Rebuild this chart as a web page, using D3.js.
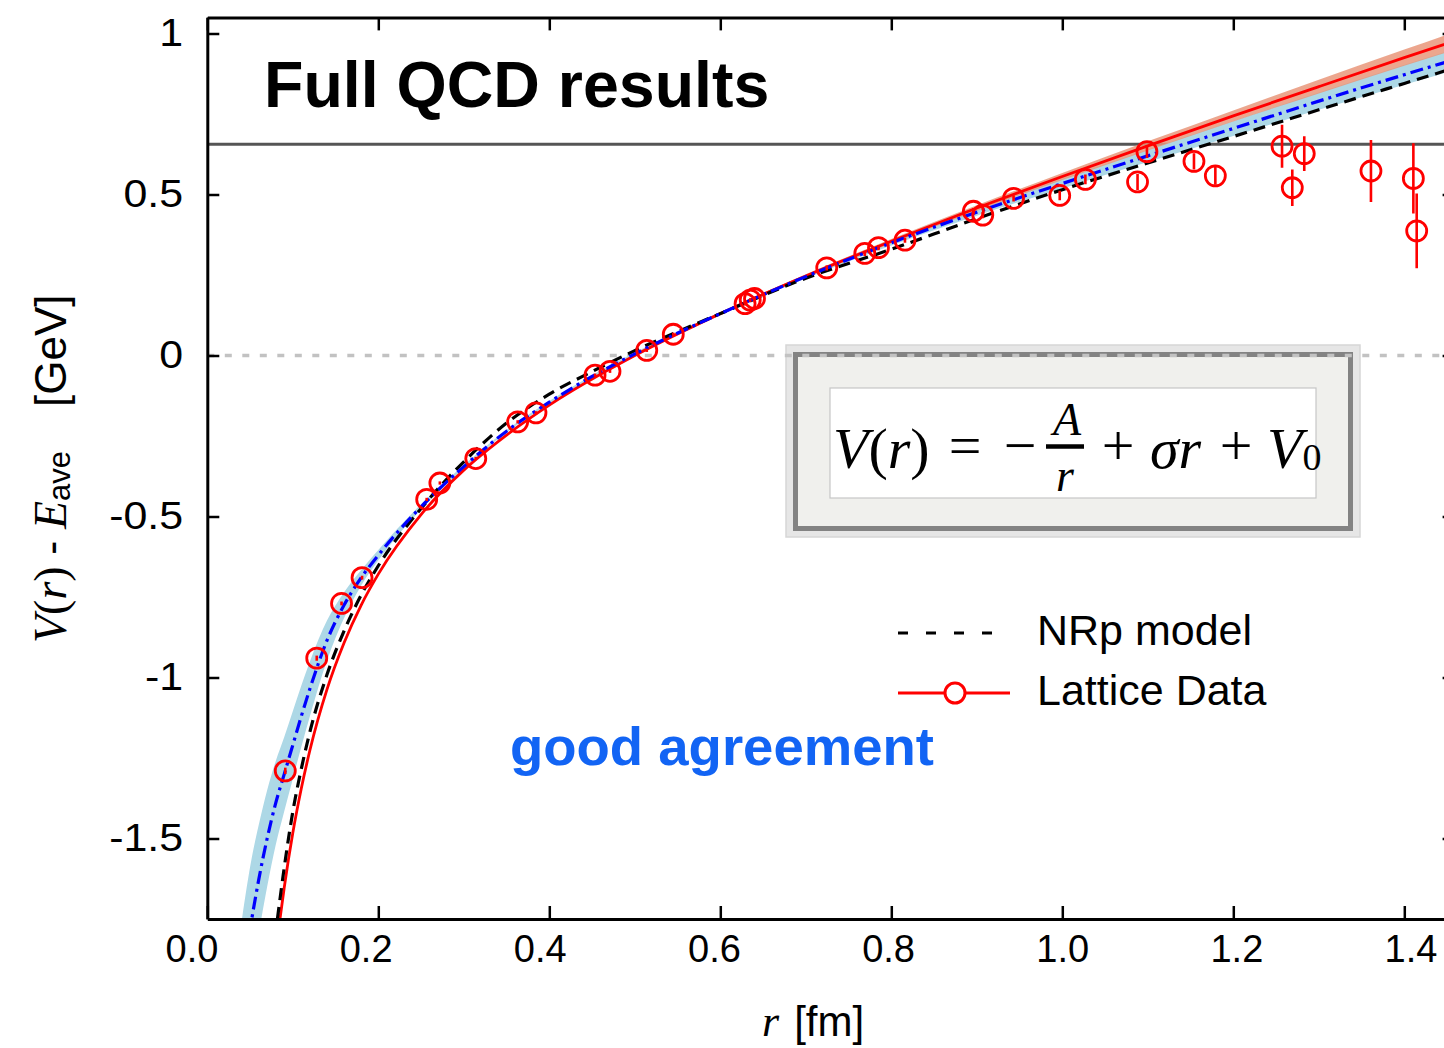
<!DOCTYPE html>
<html>
<head>
<meta charset="utf-8">
<script src="https://cdn.jsdelivr.net/npm/d3@7"></script>
<style>
  body { margin: 0; background: #fff; }
  svg { display: block; }
</style>
</head>
<body>
<script>
// lattice data: r [fm], V(r) - E_ave [GeV], error
const latR   = [0.0912, 0.128, 0.157, 0.181, 0.2566, 0.272, 0.314, 0.363, 0.3844, 0.4535, 0.471, 0.514, 0.545,
                0.629, 0.635, 0.640, 0.7245, 0.769, 0.785, 0.816, 0.896, 0.907, 0.943, 0.997, 1.027, 1.088,
                1.099, 1.154, 1.179, 1.257, 1.269, 1.283, 1.361, 1.4106, 1.4145];
const latV   = [-1.29, -0.94, -0.77, -0.69, -0.447, -0.396, -0.320, -0.206, -0.178, -0.061, -0.049, 0.016, 0.066,
                0.161, 0.172, 0.177, 0.272, 0.317, 0.335, 0.358, 0.448, 0.436, 0.488, 0.497, 0.547, 0.539,
                0.633, 0.603, 0.558, 0.650, 0.521, 0.627, 0.573, 0.550, 0.387];
const latErr = [0.01, 0.008, 0.006, 0.006, 0.005, 0.005, 0.005, 0.005, 0.005, 0.005, 0.005, 0.005, 0.005,
                0.006, 0.006, 0.006, 0.008, 0.008, 0.008, 0.008, 0.01, 0.01, 0.01, 0.015, 0.015, 0.025,
                0.02, 0.025, 0.028, 0.067, 0.057, 0.054, 0.096, 0.109, 0.116];

// Cornell fit to the lattice data (red) with its error band
const fitR   = [0.085, 0.09, 0.10, 0.11, 0.12, 0.14, 0.16, 0.18, 0.20, 0.25, 0.30, 0.35, 0.40, 0.50, 0.60, 0.70,
                0.80, 0.90, 1.00, 1.10, 1.20, 1.30, 1.40, 1.46];
const fitV   = [-1.75, -1.652, -1.483, -1.344, -1.226, -1.037, -0.892, -0.775, -0.679, -0.494, -0.356, -0.247,
                -0.154, 0.000, 0.130, 0.247, 0.355, 0.458, 0.556, 0.651, 0.744, 0.835, 0.925, 0.978];
const fitErr = [0.002, 0.002, 0.002, 0.002, 0.002, 0.002, 0.002, 0.002, 0.002, 0.002, 0.002, 0.002, 0.002, 0.003,
                0.004, 0.005, 0.007, 0.009, 0.011, 0.014, 0.017, 0.021, 0.025, 0.028];

// NRp model (black dashed)
const nrpR = [0.082, 0.09, 0.10, 0.11, 0.12, 0.14, 0.16, 0.18, 0.20, 0.25, 0.30, 0.35, 0.40, 0.45, 0.50, 0.60,
              0.70, 0.80, 0.90, 1.00, 1.10, 1.20, 1.30, 1.40, 1.46];
const nrpV = [-1.75, -1.59, -1.417, -1.283, -1.169, -0.991, -0.855, -0.744, -0.653, -0.475, -0.33, -0.21, -0.12,
              -0.05, 0.015, 0.13, 0.24, 0.33, 0.425, 0.515, 0.598, 0.68, 0.763, 0.845, 0.894];

// Cornell-type fit to the model (blue dash-dot) with its band
const modR   = [0.040, 0.052, 0.06, 0.07, 0.08, 0.09, 0.10, 0.11, 0.12, 0.14, 0.16, 0.18, 0.20, 0.25, 0.30, 0.35,
                0.40, 0.45, 0.50, 0.60, 0.70, 0.80, 0.90, 1.00, 1.10, 1.20, 1.30, 1.40, 1.46];
const modV   = [-1.96, -1.75, -1.63, -1.50, -1.39, -1.30, -1.21, -1.12, -1.035, -0.885, -0.775, -0.69, -0.62, -0.47,
                -0.345, -0.235, -0.145, -0.065, 0.005, 0.13, 0.245, 0.35, 0.445, 0.534, 0.62, 0.705, 0.79, 0.872, 0.92];
const modErr = [0.20, 0.19, 0.17, 0.15, 0.13, 0.115, 0.105, 0.095, 0.085, 0.062, 0.04, 0.024, 0.016, 0.008, 0.005,
                0.004, 0.004, 0.004, 0.004, 0.005, 0.006, 0.008, 0.011, 0.015, 0.019, 0.023, 0.027, 0.031, 0.033];

const thresholdV = 0.656;

const xTicks = [0, 0.2, 0.4, 0.6, 0.8, 1.0, 1.2, 1.4];
const xTickLabels = ["0.0", "0.2", "0.4", "0.6", "0.8", "1.0", "1.2", "1.4"];
const yTicks = [1, 0.5, 0, -0.5, -1, -1.5];
const yTickLabels = ["1", "0.5", "0", "-0.5", "-1", "-1.5"];

const w = 1444;
const h = 1048;
const sans = '"Liberation Sans", Arial, Helvetica, sans-serif';
const serif = '"Liberation Serif", "Times New Roman", serif';

const x = d3.scaleLinear().domain([0, 1.46]).range([207.3, 1455.6]);
const y = d3.scaleLinear().domain([-1.75, 1.05]).range([919, 17.4]);
// the tick labels sit on a slightly wider grid than the ticks
const xLab = d3.scaleLinear().domain([0, 1.4]).range([192, 1411]);

const svg = d3.select("body").append("svg")
  .attr("width", w)
  .attr("height", h);

svg.append("defs").append("clipPath").attr("id", "plotArea")
  .append("rect")
  .attr("x", x(0)).attr("y", y(1.05))
  .attr("width", x(1.46) - x(0)).attr("height", y(-1.75) - y(1.05));

// formula box
const box = svg.append("g").attr("transform", "translate(786,345)");
box.append("rect").attr("width", 574).attr("height", 192)
  .attr("fill", "#e6e6e6").attr("stroke", "#d6d6d6").attr("stroke-width", 1.5);
box.append("rect").attr("x", 9.5).attr("y", 9.5).attr("width", 555).attr("height", 174)
  .attr("fill", "#f0f0ed").attr("stroke", "#838383").attr("stroke-width", 5);
box.append("rect").attr("x", 44).attr("y", 43).attr("width", 486).attr("height", 110)
  .attr("fill", "#fff").attr("stroke", "#c6c6c6").attr("stroke-width", 1.2);

const f = box.append("g").attr("font-family", serif).attr("fill", "#000");
const fline = f.append("text").attr("x", 47).attr("y", 123).attr("font-size", 58);
fline.append("tspan").attr("font-style", "italic").text("V");
fline.append("tspan").text("(");
fline.append("tspan").attr("font-style", "italic").text("r");
fline.append("tspan").text(")");
f.append("text").attr("x", 179).attr("y", 120).attr("font-size", 58).attr("text-anchor", "middle").text("=");
f.append("text").attr("x", 234).attr("y", 120).attr("font-size", 58).attr("text-anchor", "middle").text("\u2212");
f.append("line").attr("x1", 260).attr("x2", 298).attr("y1", 101.5).attr("y2", 101.5)
  .attr("stroke", "#000").attr("stroke-width", 4.5);
f.append("text").attr("x", 281).attr("y", 90).attr("font-size", 46).attr("font-style", "italic")
  .attr("text-anchor", "middle").text("A");
f.append("text").attr("x", 279).attr("y", 146).attr("font-size", 46).attr("font-style", "italic")
  .attr("text-anchor", "middle").text("r");
f.append("text").attr("x", 332).attr("y", 120).attr("font-size", 58).attr("text-anchor", "middle").text("+");
f.append("text").attr("x", 364).attr("y", 123).attr("font-size", 58).attr("font-style", "italic").text("\u03c3r");
f.append("text").attr("x", 450).attr("y", 120).attr("font-size", 58).attr("text-anchor", "middle").text("+");
const v0 = f.append("text").attr("x", 481).attr("y", 123).attr("font-size", 58);
v0.append("tspan").attr("font-style", "italic").text("V");
v0.append("tspan").attr("font-size", 38).attr("dy", 2).text("0");

const plot = svg.append("g").attr("clip-path", "url(#plotArea)");

// threshold and zero lines
plot.append("line")
  .attr("x1", x(0)).attr("x2", x(1.46))
  .attr("y1", y(thresholdV)).attr("y2", y(thresholdV))
  .attr("stroke", "#555").attr("stroke-width", 3);
plot.append("line")
  .attr("x1", x(0)).attr("x2", x(1.46))
  .attr("y1", y(0)).attr("y2", y(0))
  .attr("stroke", "#c2c2c2").attr("stroke-width", 3.5)
  .attr("stroke-dasharray", "7,10.5");

function band(rs, vs, es) {
  return d3.area()
    .x((d, i) => x(rs[i]))
    .y0((d, i) => y(vs[i] - es[i]))
    .y1((d, i) => y(vs[i] + es[i]))
    .curve(d3.curveMonotoneX)(rs);
}
function curve(rs, vs) {
  return d3.line()
    .x((d, i) => x(rs[i]))
    .y((d, i) => y(vs[i]))
    .curve(d3.curveMonotoneX)(rs);
}

plot.append("path").attr("d", band(modR, modV, modErr))
  .attr("fill", "#add8e6").attr("stroke", "none");
plot.append("path").attr("d", band(fitR, fitV, fitErr))
  .attr("fill", "#e9967a").attr("opacity", 0.85).attr("stroke", "none");

plot.append("path").attr("d", curve(fitR, fitV))
  .attr("fill", "none").attr("stroke", "#ff0000").attr("stroke-width", 2.8);
plot.append("path").attr("d", curve(nrpR, nrpV))
  .attr("fill", "none").attr("stroke", "#000").attr("stroke-width", 3.2)
  .attr("stroke-dasharray", "12,7");
plot.append("path").attr("d", curve(modR, modV))
  .attr("fill", "none").attr("stroke", "#0000ff").attr("stroke-width", 3.2)
  .attr("stroke-dasharray", "13,5,3,5");

// lattice points with error bars
const pts = plot.selectAll("g.pt")
  .data(latR)
  .enter()
  .append("g")
  .attr("class", "pt");
pts.append("line")
  .attr("x1", d => x(d)).attr("x2", d => x(d))
  .attr("y1", (d, i) => y(latV[i] - latErr[i]))
  .attr("y2", (d, i) => y(latV[i] + latErr[i]))
  .attr("stroke", "#ff0000").attr("stroke-width", 2.6);
pts.append("circle")
  .attr("cx", d => x(d))
  .attr("cy", (d, i) => y(latV[i]))
  .attr("r", 10)
  .attr("fill", "none").attr("stroke", "#ff0000").attr("stroke-width", 2.8);

// frame and axes
function styleAxis(g) {
  g.select(".domain").attr("stroke", "#000").attr("stroke-width", 3);
  g.selectAll(".tick line").attr("stroke", "#000").attr("stroke-width", 2.5);
}
svg.append("g")
  .attr("transform", "translate(0," + y(-1.75) + ")")
  .call(d3.axisBottom(x).tickValues(xTicks).tickFormat("").tickSize(-13).tickSizeOuter(0))
  .call(styleAxis);
svg.append("g")
  .attr("transform", "translate(0," + y(1.05) + ")")
  .call(d3.axisTop(x).tickValues(xTicks).tickFormat("").tickSize(-13).tickSizeOuter(0))
  .call(styleAxis);
svg.append("g")
  .attr("transform", "translate(" + x(1.46) + ",0)")
  .call(d3.axisRight(y).tickValues(yTicks).tickFormat("").tickSize(-13).tickSizeOuter(0))
  .call(styleAxis);
const yAxis = svg.append("g")
  .attr("transform", "translate(" + x(0) + ",0)")
  .call(d3.axisLeft(y).tickValues(yTicks).tickFormat((d, i) => yTickLabels[i])
    .tickSize(-12).tickSizeOuter(0).tickPadding(22))
  .call(styleAxis);
yAxis.selectAll("text")
  .attr("font-family", sans).attr("font-size", 39).attr("fill", "#000")
  .attr("transform", "scale(1.1,1)");

svg.append("g").selectAll("text")
  .data(xTicks)
  .enter()
  .append("text")
  .attr("x", d => xLab(d))
  .attr("y", 962)
  .attr("text-anchor", "middle")
  .attr("font-family", sans).attr("font-size", 38)
  .text((d, i) => xTickLabels[i]);

// axis titles
const xt = svg.append("text").attr("x", 762).attr("y", 1036).attr("font-size", 42);
xt.append("tspan").attr("font-family", serif).attr("font-style", "italic").attr("font-size", 44).text("r");
xt.append("tspan").attr("font-family", sans).attr("dx", 15).text("[fm]");

const yt = svg.append("text")
  .attr("transform", "translate(66,643) rotate(-90)")
  .attr("font-size", 46);
yt.append("tspan").attr("font-family", serif).attr("font-style", "italic").text("V");
yt.append("tspan").attr("font-family", serif).text("(");
yt.append("tspan").attr("font-family", serif).attr("font-style", "italic").text("r");
yt.append("tspan").attr("font-family", serif).text(")");
yt.append("tspan").attr("font-family", sans).attr("font-size", 42).text(" - ");
yt.append("tspan").attr("font-family", serif).attr("font-style", "italic").text("E");
yt.append("tspan").attr("font-family", sans).attr("font-size", 31).attr("dy", 4).text("ave");
yt.append("tspan").attr("font-family", sans).attr("font-size", 44).attr("dy", -4).attr("dx", 44).text("[GeV]");

// title and note
svg.append("text").attr("x", 264).attr("y", 107)
  .attr("font-family", sans).attr("font-weight", "bold").attr("font-size", 64.5)
  .text("Full QCD results");
svg.append("text").attr("x", 510).attr("y", 765)
  .attr("font-family", sans).attr("font-weight", "bold").attr("font-size", 54.5)
  .attr("fill", "#1264f4")
  .text("good agreement");

// legend
const lg = svg.append("g").attr("font-family", sans).attr("font-size", 43);
lg.append("line").attr("x1", 898).attr("x2", 998).attr("y1", 633).attr("y2", 633)
  .attr("stroke", "#000").attr("stroke-width", 3).attr("stroke-dasharray", "10,18");
lg.append("text").attr("x", 1037).attr("y", 645).text("NRp model");
lg.append("line").attr("x1", 898).attr("x2", 1010).attr("y1", 693).attr("y2", 693)
  .attr("stroke", "#ff0000").attr("stroke-width", 3);
lg.append("circle").attr("cx", 955).attr("cy", 693).attr("r", 10)
  .attr("fill", "#fff").attr("stroke", "#ff0000").attr("stroke-width", 3);
lg.append("text").attr("x", 1037).attr("y", 705).text("Lattice Data");
</script>
</body>
</html>
